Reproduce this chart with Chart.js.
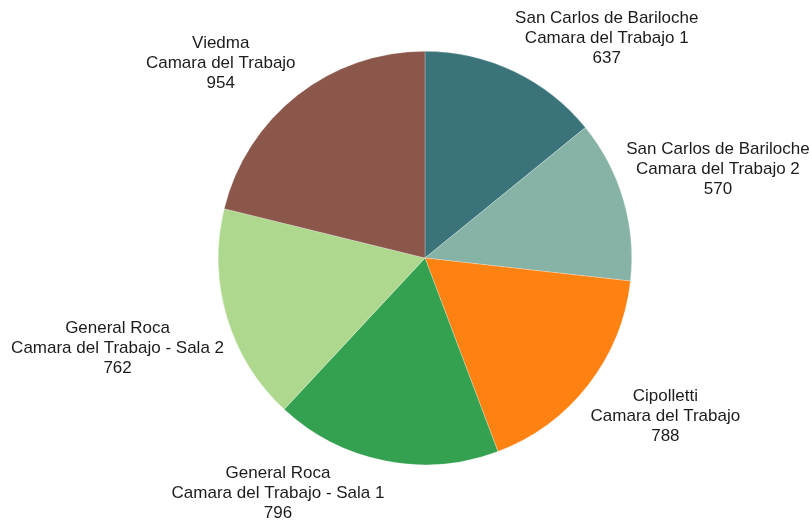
<!DOCTYPE html>
<html>
<head>
<meta charset="utf-8">
<script src="https://cdn.jsdelivr.net/npm/chart.js@4"></script>
<style>
  html, body { margin: 0; padding: 0; background: #fff; }
  #wrap { width: 809px; height: 522px; }
</style>
</head>
<body>
<div id="wrap"><canvas id="pie-chart"></canvas></div>
<script>
// Data
const categories = [
    ['San Carlos de Bariloche', 'Camara del Trabajo 1'],
    ['San Carlos de Bariloche', 'Camara del Trabajo 2'],
    ['Cipolletti', 'Camara del Trabajo'],
    ['General Roca', 'Camara del Trabajo - Sala 1'],
    ['General Roca', 'Camara del Trabajo - Sala 2'],
    ['Viedma', 'Camara del Trabajo']
];
const values = [637, 570, 788, 796, 762, 954];
const sliceColors = ['#3a737a', '#87b3a7', '#fe8212', '#34a150', '#aed88e', '#8a574a'];

// Labels outside the pie: box corner sits on the slice's middle ray
const outsideLabels = {
    id: 'outsideLabels',
    afterDatasetsDraw(chart) {
        const ctx = chart.ctx;
        const meta = chart.getDatasetMeta(0);
        const lineH = 20;
        ctx.save();
        ctx.font = '17px "Liberation Sans", Arial, sans-serif';
        ctx.fillStyle = '#1c1c1c';
        ctx.textAlign = 'center';
        ctx.textBaseline = 'middle';
        meta.data.forEach(function (arc, i) {
            const lines = categories[i].concat([String(values[i])]);
            const mid = (arc.startAngle + arc.endAngle) / 2;
            const r = arc.outerRadius + 3;
            const px = arc.x + Math.cos(mid) * r;
            const py = arc.y + Math.sin(mid) * r;
            let w = 0;
            lines.forEach(l => { w = Math.max(w, ctx.measureText(l).width); });
            const h = lines.length * lineH;
            const left = Math.cos(mid) >= 0 ? px : px - w;
            const top = Math.sin(mid) >= 0 ? py : py - h;
            lines.forEach(function (l, j) {
                ctx.fillText(l, left + w / 2, top + lineH / 2 + j * lineH);
            });
        });
        ctx.restore();
    }
};

new Chart(document.getElementById('pie-chart'), {
    type: 'pie',
    data: {
        labels: categories,
        datasets: [{
            data: values,
            backgroundColor: sliceColors,
            borderColor: 'rgba(255,255,255,0.5)',
            borderWidth: 0.5
        }]
    },
    options: {
        responsive: true,
        maintainAspectRatio: false,
        animation: false,
        layout: {
            padding: { left: 218, right: 177, top: 51, bottom: 57 }
        },
        plugins: {
            legend: { display: false },
            tooltip: { enabled: false }
        }
    },
    plugins: [outsideLabels]
});
</script>
</body>
</html>
